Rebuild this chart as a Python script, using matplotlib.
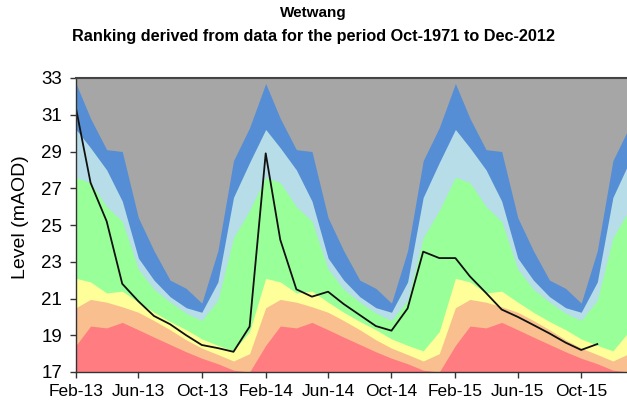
import matplotlib
matplotlib.use('Agg')
import matplotlib.pyplot as plt
import matplotlib.dates as mdates
import pandas as pd

plt.rcParams['font.family'] = ['Liberation Sans', 'DejaVu Sans']

# Monthly dates Feb-13 .. Jan-16
months = pd.date_range('2013-02-01', periods=36, freq='MS')

# Band upper limits (mAOD), ranking by calendar month
blue_top = [32.7, 30.8, 29.1, 29.0, 25.4, 23.6, 22.0, 21.55, 20.75, 23.6, 28.5, 30.3,
            32.7, 30.8, 29.1, 29.0, 25.4, 23.6, 22.0, 21.55, 20.75, 23.6, 28.5, 30.3,
            32.7, 30.8, 29.1, 29.0, 25.4, 23.6, 22.0, 21.55, 20.75, 23.6, 28.5, 30.3]
lightblue_top = [30.2, 29.2, 28.0, 26.3, 23.2, 22.0, 21.1, 20.5, 20.25, 21.9, 26.5, 28.4,
                 30.2, 29.2, 28.0, 26.3, 23.2, 22.0, 21.1, 20.5, 20.25, 21.9, 26.5, 28.4,
                 30.2, 29.2, 28.0, 26.3, 23.2, 22.0, 21.1, 20.5, 20.25, 21.9, 26.5, 28.4]
green_top = [27.6, 27.3, 26.0, 25.2, 22.6, 21.5, 20.8, 20.2, 19.8, 20.9, 24.3, 25.8,
             27.6, 27.3, 26.0, 25.2, 22.6, 21.5, 20.8, 20.2, 19.8, 20.9, 24.3, 25.8,
             27.6, 27.3, 26.0, 25.2, 22.6, 21.5, 20.8, 20.2, 19.8, 20.9, 24.3, 25.8]
yellow_top = [22.1, 21.9, 21.3, 21.4, 20.8, 20.25, 19.75, 19.3, 18.8, 18.45, 18.15, 19.2,
              22.1, 21.9, 21.3, 21.4, 20.8, 20.25, 19.75, 19.3, 18.8, 18.45, 18.15, 19.2,
              22.1, 21.9, 21.3, 21.4, 20.8, 20.25, 19.75, 19.3, 18.8, 18.45, 18.15, 19.2]
orange_top = [20.5, 20.95, 20.8, 20.55, 20.25, 19.8, 19.3, 18.75, 18.3, 17.95, 17.6, 18.0,
              20.5, 20.95, 20.8, 20.55, 20.25, 19.8, 19.3, 18.75, 18.3, 17.95, 17.6, 18.0,
              20.5, 20.95, 20.8, 20.55, 20.25, 19.8, 19.3, 18.75, 18.3, 17.95, 17.6, 18.0]
red_top = [18.45, 19.5, 19.4, 19.7, 19.3, 18.9, 18.5, 18.1, 17.75, 17.45, 17.1, 17.0,
           18.45, 19.5, 19.4, 19.7, 19.3, 18.9, 18.5, 18.1, 17.75, 17.45, 17.1, 17.0,
           18.45, 19.5, 19.4, 19.7, 19.3, 18.9, 18.5, 18.1, 17.75, 17.45, 17.1, 17.0]

# Observed level Feb-13 .. Nov-15
level = [31.35, 27.3, 25.2, 21.8, 20.85, 20.05, 19.6, 19.0, 18.47, 18.3, 18.1, 19.47,
         28.9, 24.2, 21.5, 21.1, 21.37, 20.7, 20.1, 19.5, 19.25, 20.46, 23.55, 23.2,
         23.2, 22.2, 21.3, 20.4, 20.0, 19.56, 19.1, 18.6, 18.2, 18.52]

title = 'Wetwang'
subtitle = 'Ranking derived from data for the period Oct-1971 to Dec-2012'
ylabel = 'Level (mAOD)'
yticks = [17, 19, 21, 23, 25, 27, 29, 31, 33]

c_grey = '#A6A6A6'
c_blue = '#558ED5'
c_lblue = '#B7DDE8'
c_green = '#99FF99'
c_yellow = '#FFFF99'
c_orange = '#FABF8F'
c_red = '#FF7C80'

fig = plt.figure(figsize=(6.27, 4.05), dpi=100)
ax = fig.add_axes([76 / 627, 33 / 405, 553 / 627, 294 / 405])
ax.set_facecolor(c_grey)

base = 15
for top, col in [(blue_top, c_blue), (lightblue_top, c_lblue), (green_top, c_green),
                 (yellow_top, c_yellow), (orange_top, c_orange), (red_top, c_red)]:
    ax.fill_between(months, base, top, color=col, linewidth=0)

ax.plot(months[:len(level)], level, color='#111111', linewidth=1.3)

ax.set_ylim(17, 33)
ax.set_xlim(months[0], months[-1])
ax.set_yticks(yticks)
ax.xaxis.set_major_locator(mdates.MonthLocator(bymonth=[2, 6, 10]))
ax.xaxis.set_major_formatter(mdates.DateFormatter('%b-%y'))
ax.tick_params(axis='both', length=4, width=1, color='#333333', direction='out')
ax.tick_params(axis='x', labelsize=12.5, pad=5)
ax.tick_params(axis='y', labelsize=13.5, pad=6)

for s in ['left', 'bottom']:
    ax.spines[s].set_color('#333333')
    ax.spines[s].set_linewidth(1)
ax.spines['top'].set_color('#444444')
ax.spines['top'].set_linewidth(1.5)
ax.spines['right'].set_visible(False)

fig.text(0.5, 1 - 13 / 405, title, ha='center', va='center', fontsize=11, fontweight='bold')
fig.text(0.5, 1 - 36 / 405, subtitle, ha='center', va='center', fontsize=11.7, fontweight='bold')
fig.text(21 / 627, 1 - 217 / 405, ylabel, ha='center', va='center', rotation=90, fontsize=14)

fig.savefig('out.png', dpi=100)
